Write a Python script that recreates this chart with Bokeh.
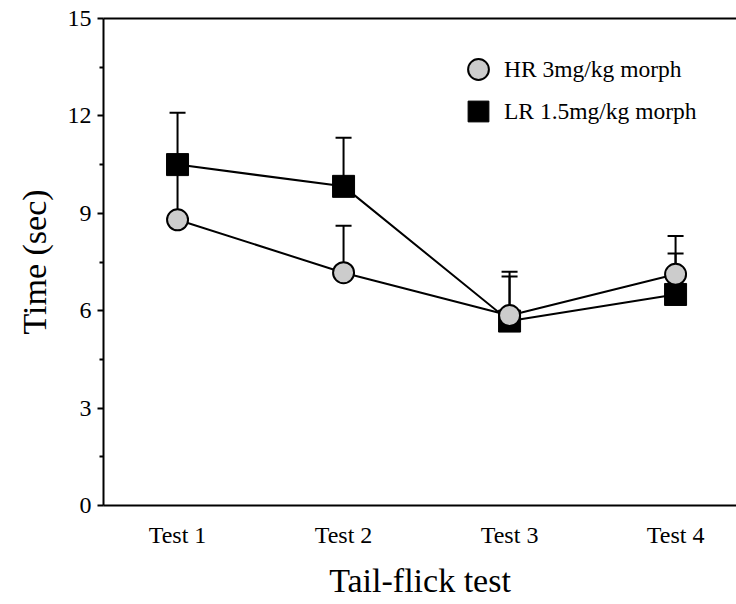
from bokeh.plotting import figure
from bokeh.models import (Range1d, FixedTicker, LinearAxis, Legend, LegendItem,
                          ColumnDataSource)
from bokeh.embed import file_html
from bokeh.resources import INLINE

# ---- data ----
tests = ["Test 1", "Test 2", "Test 3", "Test 4"]
test_pos = [1, 2, 3, 4]
hr_mean = [8.8, 7.17, 5.85, 7.12]
hr_err = [1.5, 1.45, 1.35, 1.18]
lr_mean = [10.5, 9.83, 5.68, 6.5]
lr_err = [1.6, 1.5, 1.37, 1.26]
y_ticks = [0, 3, 6, 9, 12, 15]
y_minor = [1.5, 4.5, 7.5, 10.5, 13.5]

FONT = "Liberation Serif"

p = figure(width=736, height=604, output_backend="svg", toolbar_location=None,
           x_range=Range1d(0.554, 4.367), y_range=Range1d(0, 15),
           x_axis_location=None, y_axis_location=None,
           min_border_left=103, min_border_right=0, min_border_top=18,
           min_border_bottom=99)
p.outline_line_color = None
p.grid.visible = False
p.background_fill_color = "white"

# axes
yax = LinearAxis(ticker=FixedTicker(ticks=y_ticks, minor_ticks=y_minor))
yax.axis_label = "Time (sec)"
yax.axis_line_width = 2
yax.major_tick_line_width = 2
yax.minor_tick_line_width = 2
yax.major_tick_out = 6
yax.major_tick_in = 0
yax.minor_tick_out = 4
yax.minor_tick_in = 0
yax.major_label_standoff = 6
yax.major_label_text_font = FONT
yax.major_label_text_font_size = "24px"
yax.major_label_text_color = "black"
yax.axis_label_text_font = FONT
yax.axis_label_text_font_size = "34px"
yax.axis_label_text_font_style = "normal"
yax.axis_label_text_color = "black"
yax.axis_label_standoff = 12
p.add_layout(yax, "left")

xax = LinearAxis(ticker=FixedTicker(ticks=test_pos, minor_ticks=[]))
xax.major_label_overrides = {pos: lab for pos, lab in zip(test_pos, tests)}
xax.axis_label = "Tail-flick test"
xax.axis_line_width = 2
xax.major_tick_line_color = None
xax.major_tick_out = 0
xax.major_tick_in = 0
xax.minor_tick_line_color = None
xax.major_label_standoff = 16
xax.major_label_text_font = FONT
xax.major_label_text_font_size = "24px"
xax.major_label_text_color = "black"
xax.axis_label_text_font = FONT
xax.axis_label_text_font_size = "34px"
xax.axis_label_text_font_style = "normal"
xax.axis_label_text_color = "black"
xax.axis_label_standoff = 11
p.add_layout(xax, "below")

top = LinearAxis(ticker=FixedTicker(ticks=[]))
top.axis_line_width = 2
top.major_tick_line_color = None
top.minor_tick_line_color = None
top.major_label_text_font_size = "0px"
top.major_tick_out = 0
top.minor_tick_out = 0
top.major_label_standoff = 0
p.add_layout(top, "above")

# error bars (upward only)
hr_src = ColumnDataSource(dict(x=test_pos, y=hr_mean,
                               top=[m + e for m, e in zip(hr_mean, hr_err)]))
lr_src = ColumnDataSource(dict(x=test_pos, y=lr_mean,
                               top=[m + e for m, e in zip(lr_mean, lr_err)]))
for src in (hr_src, lr_src):
    p.segment(x0="x", y0="y", x1="x", y1="top", source=src,
              line_color="black", line_width=2)
    p.scatter(x="x", y="top", source=src, marker="dash", size=16,
              line_color="black", line_width=2)

# lines
p.line(x="x", y="y", source=lr_src, line_color="black", line_width=2)
p.line(x="x", y="y", source=hr_src, line_color="black", line_width=2)

# markers
lr_r = p.scatter(x="x", y="y", source=lr_src, marker="square", size=22,
                 fill_color="black", line_color="black", line_width=1)
hr_r = p.scatter(x="x", y="y", source=hr_src, marker="circle", size=21,
                 fill_color="#cccccc", line_color="black", line_width=2)


def make_legend(label, renderer, loc):
    lg = Legend(items=[LegendItem(label=label, renderers=[renderer])],
                location=loc)
    lg.glyph_width = 52
    lg.glyph_height = 52
    lg.label_height = 30
    lg.spacing = 0
    lg.padding = 0
    lg.margin = 0
    lg.label_standoff = -13
    lg.label_text_font = FONT
    lg.label_text_font_size = "23.5px"
    lg.label_text_color = "black"
    lg.border_line_color = None
    lg.background_fill_alpha = 0
    return lg


p.add_layout(make_legend("HR 3mg/kg morph", hr_r, (349, 410)), "center")
p.add_layout(make_legend("LR 1.5mg/kg morph", lr_r, (349, 368)), "center")

open("out.html", "w").write(file_html(p, INLINE))
